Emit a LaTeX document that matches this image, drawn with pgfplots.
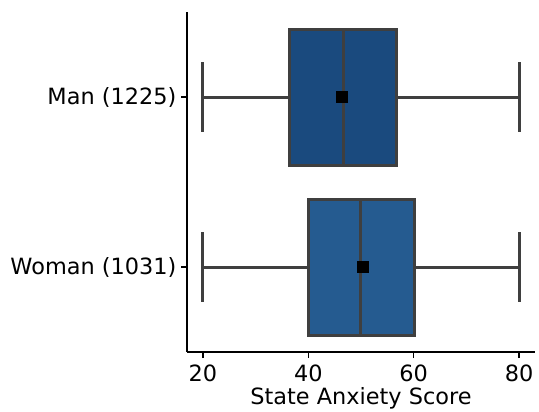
\documentclass[border=0pt]{standalone}
\usepackage{pgfplots}
\pgfplotsset{compat=1.18}
\usepgfplotslibrary{statistics}
\usepackage{fontspec}
\setmainfont{DejaVu Sans}
\definecolor{manc}{HTML}{1A4A7E}
\definecolor{womc}{HTML}{255B90}
\definecolor{edgec}{HTML}{3F3F3F}
\begin{document}
\begin{tikzpicture}
\begin{axis}[name=ax, scale only axis, width=174pt, height=170pt,
 xmin=17, xmax=83, ymin=-0.5, ymax=1.5, y dir=reverse,
 axis x line*=bottom, axis y line*=left, axis line style={line width=0.7pt, -},
 xtick={20,40,60,80}, ytick={0,1}, yticklabels={Man (1225), Woman (1031)},
 tick style={black, line width=0.7pt}, tick align=outside, major tick length=3pt,
 ticklabel style={font=\fontsize{11.2}{13}\selectfont},
 yticklabel style={xshift=1.2pt},
 /pgf/number format/assume math mode=true,
 xlabel={State Anxiety Score}, label style={font=\fontsize{11.2}{13}\selectfont},
 xlabel style={yshift=4pt},
 boxplot/every box/.style={draw=edgec, line width=1.5pt},
 boxplot/every whisker/.style={draw=edgec, line width=1.5pt},
 boxplot/every median/.style={draw=edgec, line width=1.5pt},
 clip=false]
\addplot[boxplot prepared={draw position=0, lower whisker=20, lower quartile=36.5, median=46.6, upper quartile=56.7, upper whisker=80, box extend=0.8, whisker extend=0.41}, draw=edgec, fill=manc, line width=1.5pt, solid, mark=none] coordinates {};
\addplot[boxplot prepared={draw position=1, lower whisker=20, lower quartile=40, median=49.9, upper quartile=60.1, upper whisker=80, box extend=0.8, whisker extend=0.41}, draw=edgec, fill=womc, line width=1.5pt, solid, mark=none] coordinates {};
\addplot[only marks, mark=square*, mark size=2.7pt, black] coordinates {(46.4,0) (50.3,1)};
\end{axis}
\pgfresetboundingbox
\path[use as bounding box] ([shift={(-93.5pt,-29.5pt)}]ax.south west) rectangle ([shift={(2pt,6pt)}]ax.north east);
\end{tikzpicture}
\end{document}
